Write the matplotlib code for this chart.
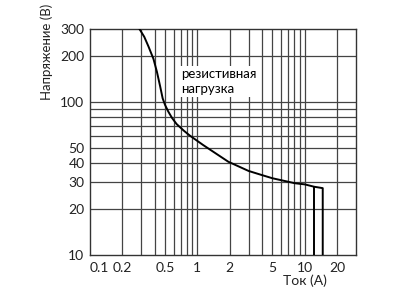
import matplotlib
matplotlib.use("Agg")
import matplotlib.pyplot as plt
from matplotlib.ticker import FixedLocator, NullFormatter

plt.rcParams['font.family'] = ['Lato', 'DejaVu Sans']

# кривая нагрузки, резистивная нагрузка
current_a = [0.29, 0.32, 0.35, 0.39, 0.42, 0.45, 0.475, 0.5, 0.535, 0.58,
             0.64, 0.75, 0.85, 1.13, 1.5, 1.94, 3.0, 3.97, 5.0, 8.1,
             10.0, 12.2, 14.7]
voltage_v = [300, 268, 232, 192, 158, 127, 106, 96, 87, 79,
             72, 65, 60.5, 52.5, 46, 40.8, 35.5, 33.4, 31.8, 29.5,
             29.0, 28.0, 27.4]
cutoff_a = [12.2, 14.7]
cutoff_v = [28.0, 27.4]
floor_v = 10

x_ticks = [0.1, 0.2, 0.5, 1, 2, 5, 10, 20]
x_tick_text = ["0.1", "0.2", "0.5", "1", "2", "5", "10", "20"]
x_grid = [0.2, 0.3, 0.4, 0.5, 0.6, 0.7, 0.8, 0.9, 1,
          2, 3, 4, 5, 6, 7, 8, 9, 10, 20]
y_ticks = [10, 20, 30, 40, 50, 100, 200, 300]
y_tick_text = ["10", "20", "30", "40", "50", "100", "200", "300"]
y_grid = [20, 30, 40, 50, 60, 70, 80, 90, 100, 200]

fig = plt.figure(figsize=(4.0, 2.99), dpi=100)
ax = fig.add_axes([0.225, 0.147, 0.665, 0.755])
ax.set_xscale('log')
ax.set_yscale('log')
ax.set_xlim(0.1, 30)
ax.set_ylim(10, 300)

ax.xaxis.set_major_locator(FixedLocator(x_ticks))
ax.xaxis.set_minor_locator(FixedLocator([]))
ax.yaxis.set_major_locator(FixedLocator(y_ticks))
ax.yaxis.set_minor_locator(FixedLocator([]))
ax.set_xticklabels(x_tick_text)
ax.set_yticklabels(y_tick_text)
ax.xaxis.set_minor_formatter(NullFormatter())
ax.yaxis.set_minor_formatter(NullFormatter())
ax.get_xticklabels()[0].set_horizontalalignment('left')
ax.tick_params(length=0, labelsize=10, colors='#222222')
ax.tick_params(axis='x', pad=5)
ax.tick_params(axis='y', pad=4)

for gx in x_grid:
    ax.axvline(gx, color='#444444', lw=0.9, zorder=1)
for gy in y_grid:
    ax.axhline(gy, color='#444444', lw=0.9, zorder=1)

for s in ax.spines.values():
    s.set_color('#333333')
    s.set_linewidth(1.0)

ax.plot(current_a + [current_a[-1]], voltage_v + [floor_v],
        color='black', lw=1.4, zorder=3)
ax.vlines(cutoff_a[:1], floor_v, cutoff_v[:1], color='black', lw=1.4, zorder=3)

ax.text(0.7, 168, "резистивная\nнагрузка", fontsize=9.5, ha='left', va='top',
        linespacing=1.35, zorder=2,
        bbox=dict(facecolor='white', edgecolor='none', pad=1.5))

fig.text(47 / 400, 1 - 52 / 299, "Напряжение (В)", rotation=90,
         ha='center', va='center', fontsize=9.5, color='#222222')
fig.text(305 / 400, 1 - 281 / 299, "Ток (А)", ha='center', va='center',
         fontsize=10, color='#222222')

fig.savefig("out.png", dpi=100)
